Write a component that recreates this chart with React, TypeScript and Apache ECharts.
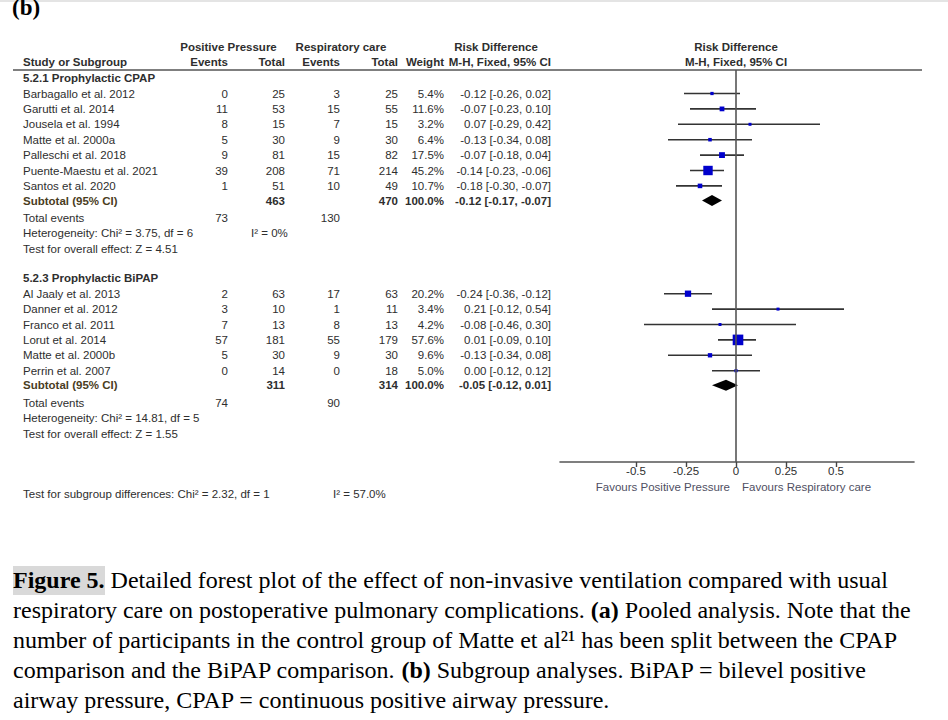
import React, { useEffect, useRef } from "react";
import * as echarts from "echarts";

// ---------- DATA ----------
const cpapTitle = "5.2.1 Prophylactic CPAP";
const cpapStudies = [
  "Barbagallo et al. 2012",
  "Garutti et al. 2014",
  "Jousela et al. 1994",
  "Matte et al. 2000a",
  "Palleschi et al. 2018",
  "Puente-Maestu et al. 2021",
  "Santos et al. 2020",
];
const cpapPPEvents = [0, 11, 8, 5, 9, 39, 1];
const cpapPPTotal = [25, 53, 15, 30, 81, 208, 51];
const cpapRCEvents = [3, 15, 7, 9, 15, 71, 10];
const cpapRCTotal = [25, 55, 15, 30, 82, 214, 49];
const cpapWeight = [5.4, 11.6, 3.2, 6.4, 17.5, 45.2, 10.7];
const cpapRD = [-0.12, -0.07, 0.07, -0.13, -0.07, -0.14, -0.18];
const cpapLow = [-0.26, -0.23, -0.29, -0.34, -0.18, -0.23, -0.3];
const cpapHigh = [0.02, 0.1, 0.42, 0.08, 0.04, -0.06, -0.07];
const cpapSubtotal = [-0.12, -0.17, -0.07]; // est, low, high
const cpapSubtotalN = [463, 470];
const cpapTotalEvents = [73, 130];
const cpapHet = "Heterogeneity: Chi² = 3.75, df = 6";
const cpapI2 = "I² = 0%";
const cpapTest = "Test for overall effect: Z = 4.51";

const bipapTitle = "5.2.3 Prophylactic BiPAP";
const bipapStudies = [
  "Al Jaaly et al. 2013",
  "Danner et al. 2012",
  "Franco et al. 2011",
  "Lorut et al. 2014",
  "Matte et al. 2000b",
  "Perrin et al. 2007",
];
const bipapPPEvents = [2, 3, 7, 57, 5, 0];
const bipapPPTotal = [63, 10, 13, 181, 30, 14];
const bipapRCEvents = [17, 1, 8, 55, 9, 0];
const bipapRCTotal = [63, 11, 13, 179, 30, 18];
const bipapWeight = [20.2, 3.4, 4.2, 57.6, 9.6, 5.0];
const bipapRD = [-0.24, 0.21, -0.08, 0.01, -0.13, 0.0];
const bipapLow = [-0.36, -0.12, -0.46, -0.09, -0.34, -0.12];
const bipapHigh = [-0.12, 0.54, 0.3, 0.1, 0.08, 0.12];
const bipapSubtotal = [-0.05, -0.12, 0.01];
const bipapSubtotalN = [311, 314];
const bipapTotalEvents = [74, 90];
const bipapHet = "Heterogeneity: Chi² = 14.81, df = 5";
const bipapI2 = "";
const bipapTest = "Test for overall effect: Z = 1.55";

const subgroupTest = "Test for subgroup differences: Chi² = 2.32, df = 1";
const subgroupI2 = "I² = 57.0%";

const xTicks = [-0.5, -0.25, 0, 0.25, 0.5];
const favoursLeft = "Favours Positive Pressure";
const favoursRight = "Favours Respiratory care";

const captionLines = [
  "{hb|Figure 5.} Detailed forest plot of the effect of non-invasive ventilation compared with usual",
  "respiratory care on postoperative pulmonary complications. {b|(a)} Pooled analysis. Note that the",
  "number of participants in the control group of Matte et al²¹ has been split between the CPAP",
  "comparison and the BiPAP comparison. {b|(b)} Subgroup analyses. BiPAP = bilevel positive",
  "airway pressure, CPAP = continuous positive airway pressure.",
];

// ---------- LAYOUT ----------
const W = 948;
const H = 720;
const ROW1_PX = 93.5;
const ROW_PX = 15.4;
const rowPx = (r: number) => ROW1_PX + (r - 1) * ROW_PX;
const COL = { name: 23, ppE: 228, ppT: 285, rcE: 340, rcT: 398, wt: 444, ci: 551, i2: 251, forest: 736 };
const T0_MIN = -5;
const T0_MAX = 40;
const F_MIN = -0.53;
const F_MAX = 24.93;
const FONT = '"Liberation Sans", Arial, sans-serif';
const SERIF = '"Liberation Serif", "Times New Roman", serif';
const TXT = "#2e2e2e";
const CAP_SIZE = 24;

const fmt = (v: number) => v.toFixed(2);
const ciText = (e: number, l: number, h: number) => `${fmt(e)} [${fmt(l)}, ${fmt(h)}]`;

type Cell = { x: number; row: number; text: string; align: string; bold?: boolean; color?: string };

function buildGroup(
  startRow: number,
  title: string,
  studies: string[],
  ppE: number[],
  ppT: number[],
  rcE: number[],
  rcT: number[],
  wt: number[],
  rd: number[],
  lo: number[],
  hi: number[],
  sub: number[],
  subN: number[],
  totE: number[],
  het: string,
  i2: string,
  test: string
) {
  const cells: Cell[] = [];
  const points: number[][] = [];
  cells.push({ x: COL.name, row: startRow, text: title, align: "left", bold: true });
  studies.forEach((s, i) => {
    const r = startRow + 1 + i;
    cells.push({ x: COL.name, row: r, text: s, align: "left" });
    cells.push({ x: COL.ppE, row: r, text: String(ppE[i]), align: "right" });
    cells.push({ x: COL.ppT, row: r, text: String(ppT[i]), align: "right" });
    cells.push({ x: COL.rcE, row: r, text: String(rcE[i]), align: "right" });
    cells.push({ x: COL.rcT, row: r, text: String(rcT[i]), align: "right" });
    cells.push({ x: COL.wt, row: r, text: wt[i].toFixed(1) + "%", align: "right" });
    cells.push({ x: COL.ci, row: r, text: ciText(rd[i], lo[i], hi[i]), align: "right" });
    points.push([rd[i], r, lo[i], hi[i], wt[i]]);
  });
  const last = startRow + studies.length;
  const sr = last + 0.95;
  const subColor = "#4a3d1e";
  cells.push({ x: COL.name, row: sr, text: "Subtotal (95% CI)", align: "left", bold: true, color: subColor });
  cells.push({ x: COL.ppT, row: sr, text: String(subN[0]), align: "right", bold: true });
  cells.push({ x: COL.rcT, row: sr, text: String(subN[1]), align: "right", bold: true });
  cells.push({ x: COL.wt, row: sr, text: "100.0%", align: "right", bold: true });
  cells.push({ x: COL.ci, row: sr, text: ciText(sub[0], sub[1], sub[2]), align: "right", bold: true });
  const te = last + 2.08;
  cells.push({ x: COL.name, row: te, text: "Total events", align: "left" });
  cells.push({ x: COL.ppE, row: te, text: String(totE[0]), align: "right" });
  cells.push({ x: COL.rcE, row: te, text: String(totE[1]), align: "right" });
  cells.push({ x: COL.name, row: last + 3.07, text: het, align: "left" });
  if (i2) cells.push({ x: COL.i2, row: last + 3.07, text: i2, align: "left" });
  cells.push({ x: COL.name, row: last + 4.1, text: test, align: "left" });
  const diamond = [sub[0], sr, sub[1], sub[2]];
  return { cells, points, diamond };
}

export default function App() {
  const ref = useRef<HTMLDivElement>(null);

  useEffect(() => {
    document.body.style.margin = "0";
    if (!ref.current) return;
    const chart = echarts.init(ref.current, undefined, { renderer: "svg", width: W, height: H });

    const g1 = buildGroup(0, cpapTitle, cpapStudies, cpapPPEvents, cpapPPTotal, cpapRCEvents, cpapRCTotal,
      cpapWeight, cpapRD, cpapLow, cpapHigh, cpapSubtotal, cpapSubtotalN, cpapTotalEvents, cpapHet, cpapI2, cpapTest);
    const g2 = buildGroup(13, bipapTitle, bipapStudies, bipapPPEvents, bipapPPTotal, bipapRCEvents, bipapRCTotal,
      bipapWeight, bipapRD, bipapLow, bipapHigh, bipapSubtotal, bipapSubtotalN, bipapTotalEvents, bipapHet, bipapI2, bipapTest);

    const cells: Cell[] = [
      { x: 228.5, row: -2.02, text: "Positive Pressure", align: "center", bold: true },
      { x: 341, row: -2.02, text: "Respiratory care", align: "center", bold: true },
      { x: 496, row: -2.02, text: "Risk Difference", align: "center", bold: true },
      { x: COL.forest, row: -2.02, text: "Risk Difference", align: "center", bold: true },
      { x: COL.name, row: -1.05, text: "Study or Subgroup", align: "left", bold: true },
      { x: COL.ppE, row: -1.05, text: "Events", align: "right", bold: true },
      { x: COL.ppT, row: -1.05, text: "Total", align: "right", bold: true },
      { x: COL.rcE, row: -1.05, text: "Events", align: "right", bold: true },
      { x: COL.rcT, row: -1.05, text: "Total", align: "right", bold: true },
      { x: COL.wt, row: -1.05, text: "Weight", align: "right", bold: true },
      { x: COL.ci, row: -1.05, text: "M-H, Fixed, 95% CI", align: "right", bold: true },
      { x: COL.forest, row: -1.05, text: "M-H, Fixed, 95% CI", align: "center", bold: true },
      ...g1.cells,
      ...g2.cells,
      { x: 730, row: 26.55, text: favoursLeft, align: "right", color: "#4f4f63" },
      { x: 742, row: 26.55, text: favoursRight, align: "left", color: "#4f4f63" },
      { x: COL.name, row: 27.0, text: subgroupTest, align: "left" },
      { x: 333, row: 27.0, text: subgroupI2, align: "left" },
    ];
    const points = [...g1.points, ...g2.points];
    const diamonds = [g1.diamond, g2.diamond];

    const option: any = {
      animation: false,
      backgroundColor: "#ffffff",
      grid: [
        { left: 0, right: 0, top: rowPx(T0_MIN), bottom: H - rowPx(T0_MAX) },
        { left: 560, right: W - 914, top: rowPx(F_MIN), bottom: H - rowPx(F_MAX) },
      ],
      xAxis: [
        { type: "value", gridIndex: 0, min: 0, max: W, show: false },
        {
          type: "value",
          gridIndex: 1,
          min: -0.88,
          max: 0.89,
          position: "bottom",
          axisLine: { show: true, onZero: false, lineStyle: { color: "#555", width: 1.6 } },
          axisTick: { show: true, customValues: xTicks, length: 5, lineStyle: { color: "#444", width: 1.4 } },
          axisLabel: {
            show: true,
            customValues: xTicks,
            formatter: (v: number) => String(v),
            color: TXT,
            fontSize: 11.5,
            fontFamily: FONT,
            margin: 3,
          },
          splitLine: { show: false },
        },
      ],
      yAxis: [
        { type: "value", gridIndex: 0, min: T0_MIN, max: T0_MAX, inverse: true, show: false },
        { type: "value", gridIndex: 1, min: F_MIN, max: F_MAX, inverse: true, show: false },
      ],
      series: [
        {
          type: "line",
          xAxisIndex: 0,
          yAxisIndex: 0,
          data: [[13, -0.53], [922, -0.53]],
          symbol: "none",
          lineStyle: { color: "#555", width: 1.6 },
          silent: true,
        },
        {
          type: "line",
          xAxisIndex: 1,
          yAxisIndex: 1,
          data: [[0, F_MIN], [0, F_MAX]],
          symbol: "none",
          lineStyle: { color: "#555", width: 1.6 },
          silent: true,
        },
        {
          type: "custom",
          xAxisIndex: 1,
          yAxisIndex: 1,
          data: points,
          silent: true,
          renderItem: (_p: any, api: any) => {
            const est = api.value(0);
            const r = api.value(1);
            const pl = api.coord([api.value(2), r]);
            const ph = api.coord([api.value(3), r]);
            const pe = api.coord([est, r]);
            const s = Math.max(3, 1.4 * Math.sqrt(api.value(4)));
            return {
              type: "group",
              children: [
                {
                  type: "line",
                  shape: { x1: pl[0], y1: pl[1], x2: ph[0], y2: ph[1] },
                  style: { stroke: "#333", lineWidth: 1.6 },
                },
                {
                  type: "rect",
                  shape: { x: pe[0] - s / 2, y: pe[1] - s / 2, width: s, height: s },
                  style: { fill: "#0000cc" },
                },
              ],
            };
          },
        },
        {
          type: "custom",
          xAxisIndex: 1,
          yAxisIndex: 1,
          data: diamonds,
          silent: true,
          renderItem: (_p: any, api: any) => {
            const r = api.value(1);
            const pe = api.coord([api.value(0), r]);
            const pl = api.coord([api.value(2), r]);
            const ph = api.coord([api.value(3), r]);
            const hh = 5.5;
            return {
              type: "polygon",
              shape: { points: [[pl[0], pl[1]], [pe[0], pe[1] - hh], [ph[0], ph[1]], [pe[0], pe[1] + hh]] },
              style: { fill: "#000" },
            };
          },
        },
        {
          type: "custom",
          xAxisIndex: 0,
          yAxisIndex: 0,
          data: cells.map((c, i) => [c.x, c.row, i]),
          silent: true,
          renderItem: (_p: any, api: any) => {
            const c = cells[api.value(2)];
            const p = api.coord([api.value(0), api.value(1)]);
            return {
              type: "text",
              x: p[0],
              y: p[1],
              style: {
                text: c.text,
                fill: c.color || TXT,
                fontSize: 11.5,
                fontFamily: FONT,
                fontWeight: c.bold ? "bold" : "normal",
                align: c.align,
                verticalAlign: "middle",
              },
            };
          },
        },
      ],
      graphic: [
        { type: "rect", left: 0, top: 0, shape: { width: W, height: 2 }, style: { fill: "#e4e4e4" }, silent: true },
        {
          type: "text",
          x: 12,
          y: 7,
          style: {
            text: "(b)",
            fontSize: 23,
            fontWeight: "bold",
            fontFamily: SERIF,
            fill: "#000",
            verticalAlign: "middle",
            align: "left",
          },
          silent: true,
        },
        {
          type: "rect",
          x: 13,
          y: 566,
          shape: { width: 92, height: 29 },
          style: { fill: "#d9d9d9" },
          silent: true,
        },
        ...captionLines.map((t, i) => ({
          type: "text",
          x: 13,
          y: 580 + 30 * i,
          silent: true,
          style: {
            text: t,
            fontSize: CAP_SIZE,
            fontFamily: SERIF,
            fill: "#000",
            verticalAlign: "middle",
            align: "left",
            rich: {
              b: { fontSize: CAP_SIZE, fontWeight: "bold", fontFamily: SERIF, fill: "#000" },
              hb: { fontSize: CAP_SIZE, fontWeight: "bold", fontFamily: SERIF, fill: "#000" },
            },
          },
        })),
      ],
    };

    chart.setOption(option);
    return () => chart.dispose();
  }, []);

  return <div ref={ref} style={{ width: W, height: H }} />;
}
